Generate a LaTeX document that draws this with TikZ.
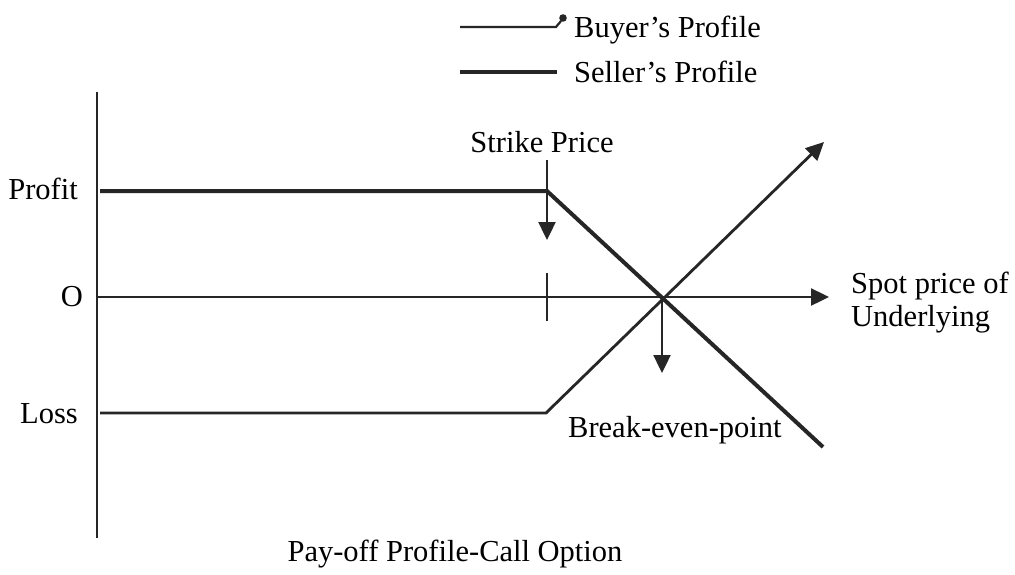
\documentclass[tikz,border=0pt]{standalone}
\usepackage{fontspec}
\setmainfont{Liberation Serif}
\usetikzlibrary{arrows.meta}
\begin{document}
\begin{tikzpicture}[x=1pt,y=-1pt,
  lbl/.style={inner sep=0pt,font=\fontsize{30.5}{34}\selectfont},
  axisline/.style={line width=2.4pt,draw=black!85},
  seller/.style={line width=4pt,draw=black!85},
  buyer/.style={line width=2.8pt,draw=black!85},
  tri/.style={-{Triangle[length=18pt,width=17pt]}}]
\useasboundingbox[fill=white] (0,0) rectangle (1015,574);
% coordinates
\coordinate (ytop) at (97,92);
\coordinate (ybot) at (97,538);
\coordinate (x0) at (97,297);
\coordinate (xend) at (829,297);
\coordinate (sp) at (100,191);
\coordinate (sk) at (547,191);
\coordinate (send) at (823,447);
\coordinate (bl) at (100,413);
\coordinate (bk) at (546,413);
\coordinate (bend) at (824,142);
\coordinate (be) at (662,297);
\coordinate (beend) at (662,373);
\coordinate (sktop) at (547,160);
\coordinate (skend) at (547,240);
\coordinate (tk1) at (547,273);
\coordinate (tk2) at (547,321);
% axes
\draw[axisline] (ytop) -- (ybot);
\draw[axisline,tri] (x0) -- (xend);
% seller profile
\draw[seller,line join=miter] (sp) -- (sk) -- (send);
% buyer profile
\draw[buyer,tri,line join=miter] (bl) -- (bk) -- (bend);
% strike price arrow and tick
\draw[axisline,tri] (sktop) -- (skend);
\draw[axisline] (tk1) -- (tk2);
% break-even arrow
\draw[axisline,tri] (be) -- (beend);
% labels
\node[lbl,anchor=east] (profit) at (78,189) {Profit};
\node[lbl,anchor=east] (o) at (83,297) {O};
\node[lbl,anchor=east] (loss) at (78,414) {Loss};
\node[lbl,anchor=base] (strike) at (542,152) {Strike Price};
\node[lbl,anchor=base west] (spot1) at (851,293) {Spot price of};
\node[lbl,anchor=base west] (spot2) at (851,326) {Underlying};
\node[lbl,anchor=base west] (bep) at (568,437) {Break-even-point};
\node[lbl,anchor=base] (title) at (455,561) {Pay-off Profile-Call Option};
% legend
\coordinate (lb1) at (460,27);
\coordinate (lb2) at (556,27);
\coordinate (lb3) at (561,21);
\coordinate (ls1) at (460,72);
\coordinate (ls2) at (557,72);
\draw[buyer,line width=2.2pt] (lb1) -- (lb2) -- (lb3);
\fill[black!85] (563,18) circle (3.8pt);
\draw[seller,line width=3.4pt] (ls1) -- (ls2);
\node[lbl,anchor=base west] (buyerlbl) at (574,37) {Buyer’s Profile};
\node[lbl,anchor=base west] (sellerlbl) at (574,82) {Seller’s Profile};
\end{tikzpicture}
\end{document}
